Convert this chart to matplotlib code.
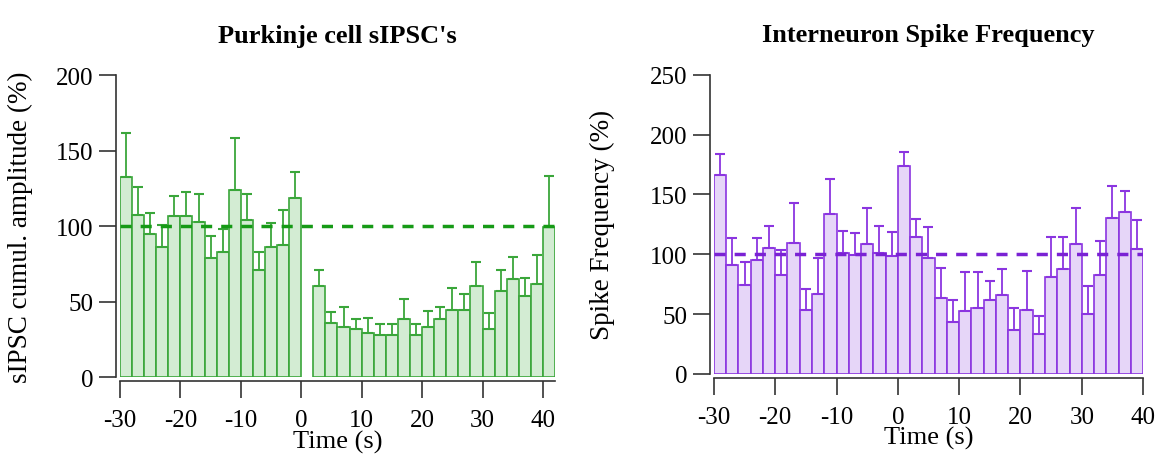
import numpy as np
import matplotlib
matplotlib.use("Agg")
import matplotlib.pyplot as plt

plt.rcParams['font.family'] = ['Liberation Serif', 'DejaVu Serif']
plt.rcParams['axes.unicode_minus'] = False

# left panel: Purkinje cell sIPSC's (2 s bins, no bin at 0-2 s)
pk_starts = list(range(-30, 0, 2)) + list(range(2, 42, 2))
pk_mean = [132.3, 107.4, 94.8, 86.4, 106.9, 106.5, 102.5, 78.7, 83.1, 124.1,
           104.3, 71.2, 86.4, 87.5, 118.9,
           60.6, 35.7, 32.9, 32.0, 29.1, 27.6, 27.6, 38.6, 27.6, 32.9,
           38.6, 44.5, 44.5, 60.0, 31.5, 56.7, 65.0, 54.0, 61.7, 99.2]
pk_err = [29.7, 18.6, 13.9, 14.6, 12.8, 15.9, 18.8, 15.0, 15.0, 34.2,
          17.0, 11.9, 15.7, 23.4, 17.1,
          10.6, 7.7, 13.2, 6.6, 9.9, 7.7, 7.2, 12.8, 7.2, 11.0,
          8.1, 14.4, 10.6, 16.1, 11.1, 14.5, 14.4, 11.7, 19.4, 34.2]

# right panel: interneuron spike frequency
in_starts = list(range(-30, 40, 2))
in_mean = [166.1, 91.1, 73.9, 95.0, 105.3, 82.8, 109.7, 53.1, 66.9, 133.6,
           100.8, 98.9, 108.6, 100.8, 98.1, 173.9, 114.7, 96.7, 63.6, 43.3,
           52.5, 55.0, 61.4, 66.1, 36.9, 53.1, 33.6, 80.8, 87.8, 108.6,
           50.3, 82.2, 130.0, 135.6, 104.4]
in_err = [17.5, 22.2, 19.4, 18.6, 18.0, 20.3, 33.1, 18.0, 29.8, 29.2,
          18.9, 18.9, 30.0, 22.5, 20.8, 11.7, 14.7, 26.4, 25.0, 18.6,
          32.5, 30.0, 16.6, 21.7, 18.1, 32.7, 14.4, 33.9, 26.4, 30.0,
          22.8, 28.4, 26.7, 17.5, 24.5]

bin_w = 2
baseline = 100

fig = plt.figure(figsize=(11.57, 4.56), dpi=100)
ax1 = fig.add_axes([0.1037, 0.171, 0.376, 0.662])
ax2 = fig.add_axes([0.617, 0.178, 0.371, 0.656])


def draw_panel(ax, starts, mean, err, edge, fill, dash, ylim, yticks, xlim, title, ylabel):
    ax.bar(starts, mean, width=bin_w, align='edge', color=fill, edgecolor=edge,
           linewidth=1.2, zorder=2)
    centers = np.array(starts) + bin_w / 2
    ax.errorbar(centers, mean, yerr=[np.zeros(len(err)), err], fmt='none',
                ecolor=edge, elinewidth=1.3, capsize=3.5, capthick=1.5, zorder=3)
    ax.plot(xlim, [baseline, baseline], color=dash, lw=2.5, ls=(0, (3.2, 2.6)), zorder=4)
    ax.set_xlim(xlim)
    ax.set_ylim(ylim)
    ax.set_yticks(yticks)
    ax.set_xticks(range(-30, 41, 10))
    for s in ['top', 'right']:
        ax.spines[s].set_visible(False)
    for s in ['left', 'bottom']:
        ax.spines[s].set_position(('outward', 3))
        ax.spines[s].set_linewidth(1.2)
        ax.spines[s].set_color('#333333')
    ax.tick_params(direction='out', length=12, width=1.2, color='#333333',
                   labelsize=18, pad=4)
    ax.tick_params(axis='x', pad=8)
    ax.set_xlabel('Time (s)', fontsize=19, labelpad=-1)
    ax.set_ylabel(ylabel, fontsize=19.5)
    ax.set_title(title, fontsize=19, fontweight='bold', pad=24)


draw_panel(ax1, pk_starts, pk_mean, pk_err, '#3aa63a', '#d3ecd3', '#169a16',
           (0, 200), range(0, 201, 50), (-30, 42),
           "Purkinje cell sIPSC's", 'sIPSC cumul. amplitude (%)')
draw_panel(ax2, in_starts, in_mean, in_err, '#8b35e0', '#e6d6f8', '#7a22d4',
           (0, 250), range(0, 251, 50), (-30, 40),
           'Interneuron Spike Frequency', 'Spike Frequency (%)')

ax1.yaxis.set_label_coords(-0.2, 0.5)
ax2.yaxis.set_label_coords(-0.23, 0.5)

fig.savefig('out.png', dpi=100)
